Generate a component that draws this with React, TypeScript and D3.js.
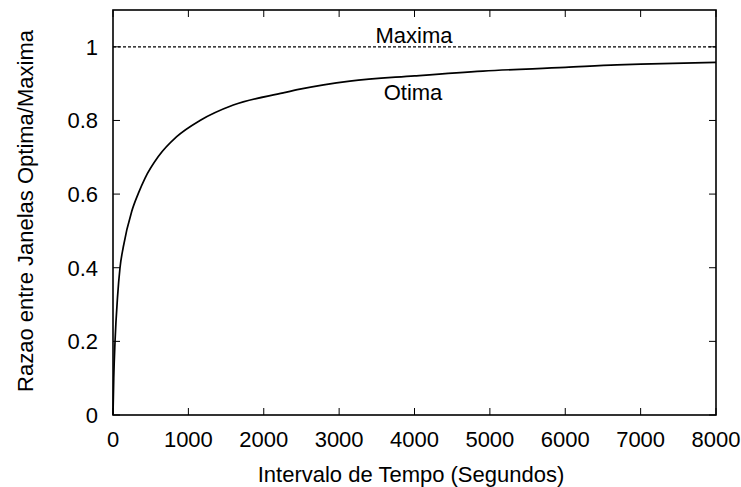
import React from 'react';
import * as d3 from 'd3';

// curve
const tempo = [0, 10, 27, 60, 93, 137, 248, 336, 424, 601, 845, 1154, 1596, 2259, 2480, 3143, 4000, 4907, 6000, 6684, 7000, 8000];
const otima = [0, 0.1, 0.2, 0.32, 0.4, 0.457, 0.553, 0.602, 0.643, 0.702, 0.756, 0.8, 0.842, 0.875, 0.885, 0.907, 0.921, 0.934, 0.944, 0.951, 0.953, 0.958];
const maxima = [1, 1];
const xTicks = [0, 1000, 2000, 3000, 4000, 5000, 6000, 7000, 8000];
const yTicks = [0, 0.2, 0.4, 0.6, 0.8, 1];

const App = () => {
  const width = 741;
  const height = 487;
  const left = 113;
  const right = 716;
  const top = 10;
  const bottom = 415;

  const x = d3.scaleLinear().domain([0, 8000]).range([left, right]);
  const y = d3.scaleLinear().domain([0, 1.1]).range([bottom, top]);

  const line = d3.line<number>()
    .x((d, i) => x(tempo[i]))
    .y((d) => y(d))
    .curve(d3.curveMonotoneX);

  const maxLine = d3.line<number>()
    .x((d, i) => x(i === 0 ? 0 : 8000))
    .y((d) => y(d));

  const font = 'Liberation Sans, Arial, sans-serif';
  const tick = 7;

  return (
    <svg width={width} height={height} style={{ position: 'absolute', left: 0, top: 0 }}>
      <rect width={width} height={height} fill="#fff" />
      <g fontFamily={font} fontSize={22} fill="#000">
        {/* frame */}
        <rect x={left} y={top} width={right - left} height={bottom - top} fill="none" stroke="#000" strokeWidth={1.6} />

        {xTicks.map((t) => (
          <g key={'x' + t}>
            <line x1={x(t)} x2={x(t)} y1={bottom} y2={bottom - tick} stroke="#000" />
            <line x1={x(t)} x2={x(t)} y1={top} y2={top + tick} stroke="#000" />
            <text x={x(t)} y={bottom + 32} textAnchor="middle">{t}</text>
          </g>
        ))}
        {yTicks.map((t) => (
          <g key={'y' + t}>
            <line x1={left} x2={left + tick} y1={y(t)} y2={y(t)} stroke="#000" />
            <line x1={right} x2={right - tick} y1={y(t)} y2={y(t)} stroke="#000" />
            <text x={98} y={y(t) + 8} textAnchor="end">{t}</text>
          </g>
        ))}

        <path d={maxLine(maxima) || ''} fill="none" stroke="#000" strokeWidth={1.3} strokeDasharray="3,2" />
        <path d={line(otima) || ''} fill="none" stroke="#000" strokeWidth={1.7} />

        <text x={414} y={43} textAnchor="middle">Maxima</text>
        <text x={413} y={100} textAnchor="middle">Otima</text>

        <text x={411} y={482} textAnchor="middle">Intervalo de Tempo (Segundos)</text>
        <text transform={`translate(33,211) rotate(-90)`} textAnchor="middle">Razao entre Janelas Optima/Maxima</text>
      </g>
    </svg>
  );
};

export default App;
